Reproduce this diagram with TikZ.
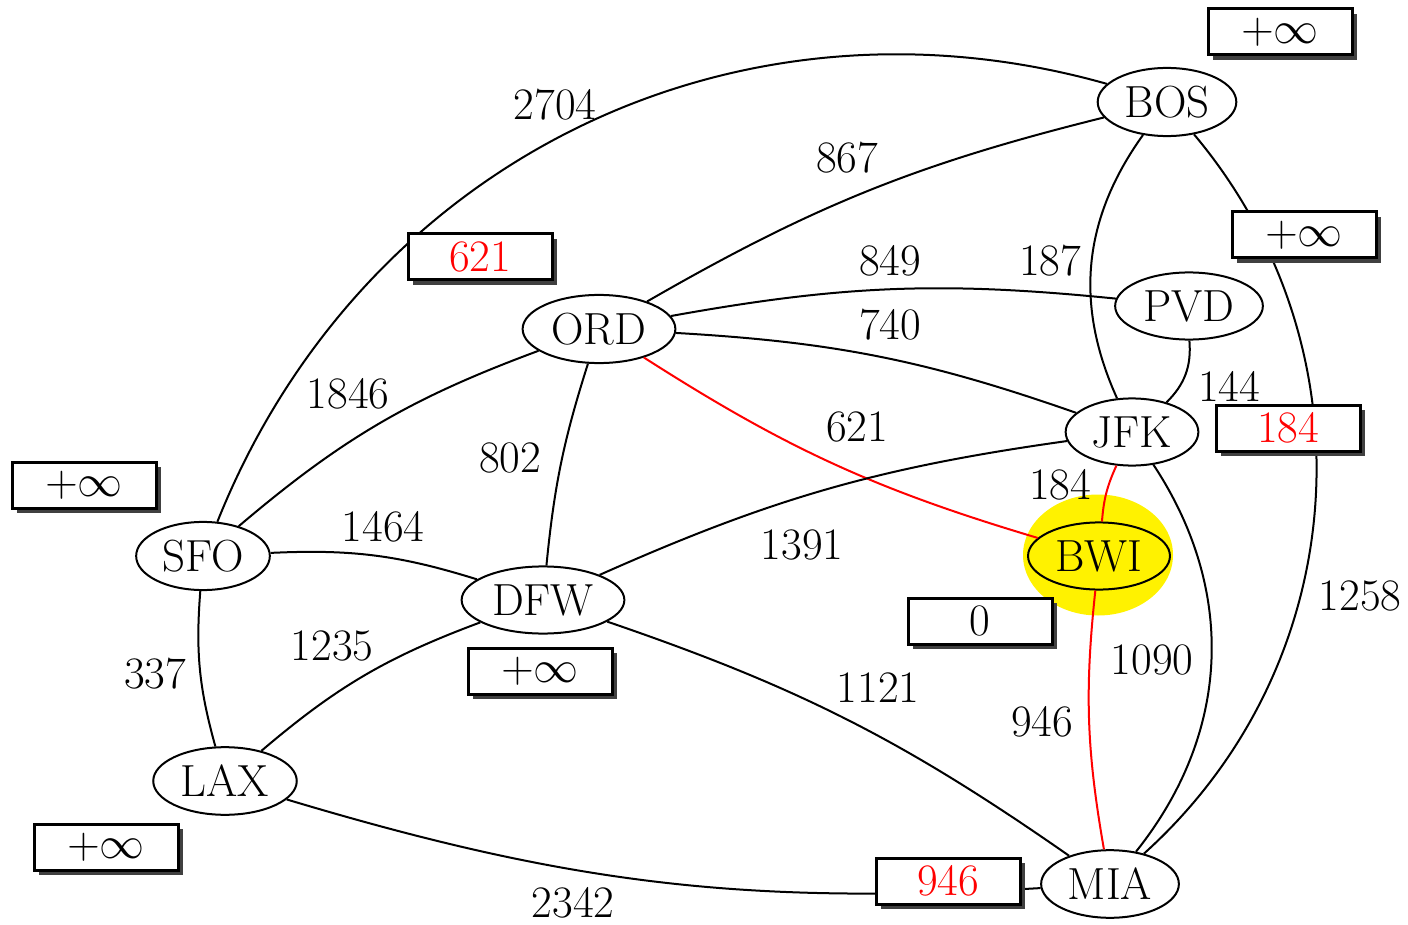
\RequirePackage{fix-cm}
\documentclass[tikz,border=0pt]{standalone}
\usepackage{fontspec}
\usetikzlibrary{shapes.geometric,shadows}
\begin{document}
\begin{tikzpicture}[x=0.5pt,y=-0.5pt,
  every node/.style={font=\fontsize{22.5}{27}\selectfont},
  apt/.style={ellipse,draw,line width=1pt,inner xsep=3.3pt,inner ysep=4pt},
  dist/.style={draw,fill=white,line width=1.5pt,minimum width=72pt,minimum height=23pt,inner sep=0pt,
    drop shadow={shadow xshift=2.5pt,shadow yshift=-2.5pt,fill=black!75,opacity=1}},
  road/.style={line width=1pt},
  hot/.style={line width=1pt,red},
  wt/.style={inner sep=0pt}]
\useasboundingbox (0,0) rectangle (1408,925);
% glow
\node[ellipse,fill=yellow,minimum width=75pt,minimum height=60.5pt,inner sep=0pt] (glow) at (1098,555) {};
% airports
\node[apt] (BOS) at (1167,102) {BOS};
\node[apt] (PVD) at (1189,306) {PVD};
\node[apt] (ORD) at (599,329) {ORD};
\node[apt] (JFK) at (1132,432) {JFK};
\node[apt,fill=yellow] (BWI) at (1099,556) {BWI};
\node[apt] (SFO) at (203,556) {SFO};
\node[apt] (DFW) at (543,600) {DFW};
\node[apt] (LAX) at (225,781) {LAX};
\node[apt] (MIA) at (1110,884) {MIA};
% edges
\draw[road] (SFO) to[bend left=42] (BOS);
\draw[road] (ORD) to[bend left=8] (BOS);
\draw[road] (ORD) to[bend left=8] (PVD);
\draw[road] (ORD) to[bend left=8] (JFK);
\draw[hot]  (ORD) to[bend right=8] (BWI);
\draw[road] (ORD) to[bend right=6] (DFW);
\draw[road] (SFO) to[bend left=10] (ORD);
\draw[road] (SFO) to[bend left=10] (DFW);
\draw[road] (SFO) to[bend right=10] (LAX);
\draw[road] (LAX) to[bend left=10] (DFW);
\draw[road] (LAX) to[bend right=10] (MIA);
\draw[road] (DFW) to[bend left=8] (JFK);
\draw[road] (DFW) to[bend left=8] (MIA);
\draw[road] (BOS) to[bend right=30] (JFK);
\draw[road] (BOS) to[bend left=44] (MIA);
\draw[road] (PVD) to[bend left=25] (JFK);
\draw[hot]  (JFK) to[bend right=10] (BWI);
\draw[road] (JFK) to[bend left=36] (MIA);
\draw[hot]  (BWI) to[bend right=8] (MIA);
% weights
\node[wt] (w1) at (555,105) {2704};
\node[wt] (w2) at (847,158) {867};
\node[wt] (w3) at (890,261) {849};
\node[wt] (w4) at (1050,261) {187};
\node[wt] (w5) at (890,325) {740};
\node[wt] (w6) at (1229,386) {144};
\node[wt] (w7) at (348,394) {1846};
\node[wt] (w8) at (857,427) {621};
\node[wt] (w9) at (510,458) {802};
\node[wt] (w10) at (1060,485) {184};
\node[wt] (w11) at (383,527) {1464};
\node[wt] (w12) at (802,545) {1391};
\node[wt] (w13) at (1360,596) {1258};
\node[wt] (w14) at (332,646) {1235};
\node[wt] (w15) at (155,674) {337};
\node[wt] (w16) at (1152,660) {1090};
\node[wt] (w17) at (878,688) {1121};
\node[wt] (w18) at (1042,722) {946};
\node[wt] (w19) at (573,903) {2342};
% distance boxes
\node[dist] (dBOS) at (1280,32) {$+\infty$};
\node[dist] (dPVD) at (1304,235) {$+\infty$};
\node[dist,text=red] (dORD) at (480,257) {621};
\node[dist,text=red] (dJFK) at (1288,428) {184};
\node[dist] (dSFO) at (84,485) {$+\infty$};
\node[dist] (dDFW) at (540,671) {$+\infty$};
\node[dist] (dLAX) at (106,847) {$+\infty$};
\node[dist] (dBWI) at (980,621) {0};
\node[dist,text=red] (dMIA) at (948,881) {946};
\end{tikzpicture}
\end{document}
